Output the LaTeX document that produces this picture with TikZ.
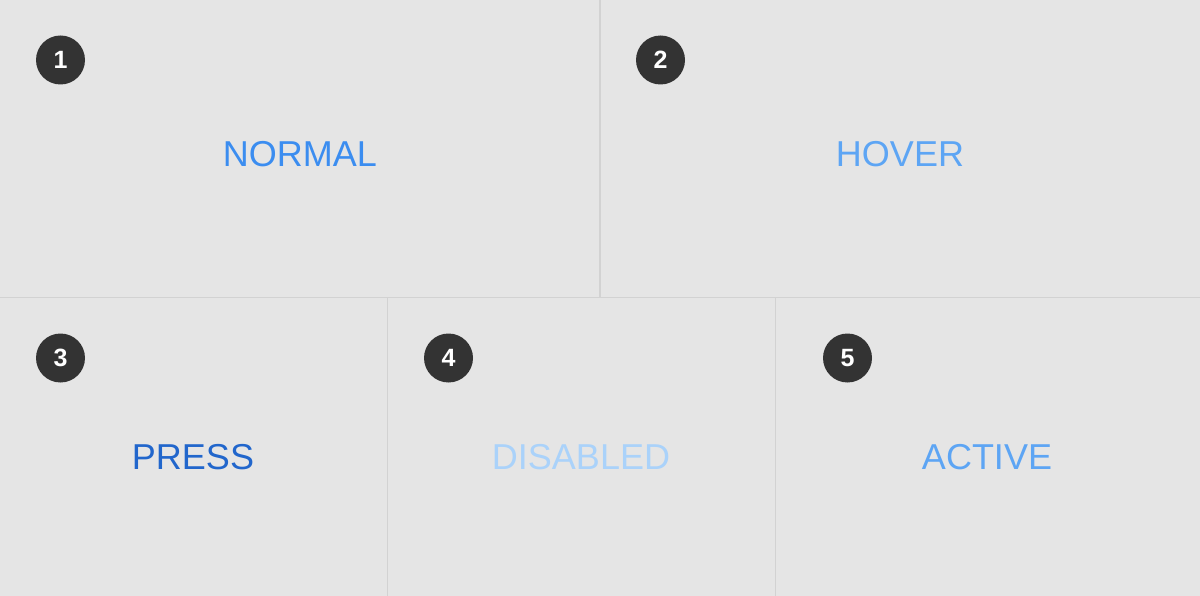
\documentclass[tikz,border=0pt]{standalone}
\usepackage{fontspec}
\setmainfont{Liberation Sans}
\definecolor{bgc}{HTML}{E5E5E5}
\definecolor{sepc}{HTML}{D2D2D2}
\definecolor{badgec}{HTML}{333333}
\definecolor{normalc}{HTML}{3B8DF0}
\definecolor{hoverc}{HTML}{5DA5F4}
\definecolor{pressc}{HTML}{2166CC}
\definecolor{disabledc}{HTML}{AAD2FA}
\definecolor{activec}{HTML}{5DA5F4}
\tikzset{
  badge/.style={circle, fill=badgec, minimum size=49pt, inner sep=0pt, text=white, font=\fontsize{25}{25}\selectfont\bfseries},
  statelabel/.style={font=\fontsize{36}{36}\selectfont, inner sep=0pt, anchor=base},
  sepline/.style={draw=sepc, line width=1.2pt}
}
\begin{document}
\begin{tikzpicture}[x=1pt,y=-1pt]
\fill[bgc] (0,0) rectangle (1200,596);
\useasboundingbox (0,0) rectangle (1200,596);
% separators
\coordinate (hl) at (0,297.5);
\coordinate (hr) at (1200,297.5);
\coordinate (v1t) at (600,0);
\coordinate (v1b) at (600,297.5);
\coordinate (v2t) at (387.5,297.5);
\coordinate (v2b) at (387.5,596);
\coordinate (v3t) at (775.5,297.5);
\coordinate (v3b) at (775.5,596);
\draw[sepline] (hl) -- (hr);
\draw[sepline] (v1t) -- (v1b);
\draw[sepline] (v2t) -- (v2b);
\draw[sepline] (v3t) -- (v3b);
% badges
\node[badge] (b1) at (60.5,60) {1};
\node[badge] (b2) at (660.5,60) {2};
\node[badge] (b3) at (60.5,358) {3};
\node[badge] (b4) at (448.5,358) {4};
\node[badge] (b5) at (847.5,358) {5};
% labels
\node[statelabel, text=normalc] (normal) at (300,167) {NORMAL};
\node[statelabel, text=hoverc] (hover) at (900,167) {HOVER};
\node[statelabel, text=pressc] (press) at (193,469) {PRESS};
\node[statelabel, text=disabledc] (disabled) at (581,469) {DISABLED};
\node[statelabel, text=activec] (active) at (987,469) {ACTIVE};
\end{tikzpicture}
\end{document}
